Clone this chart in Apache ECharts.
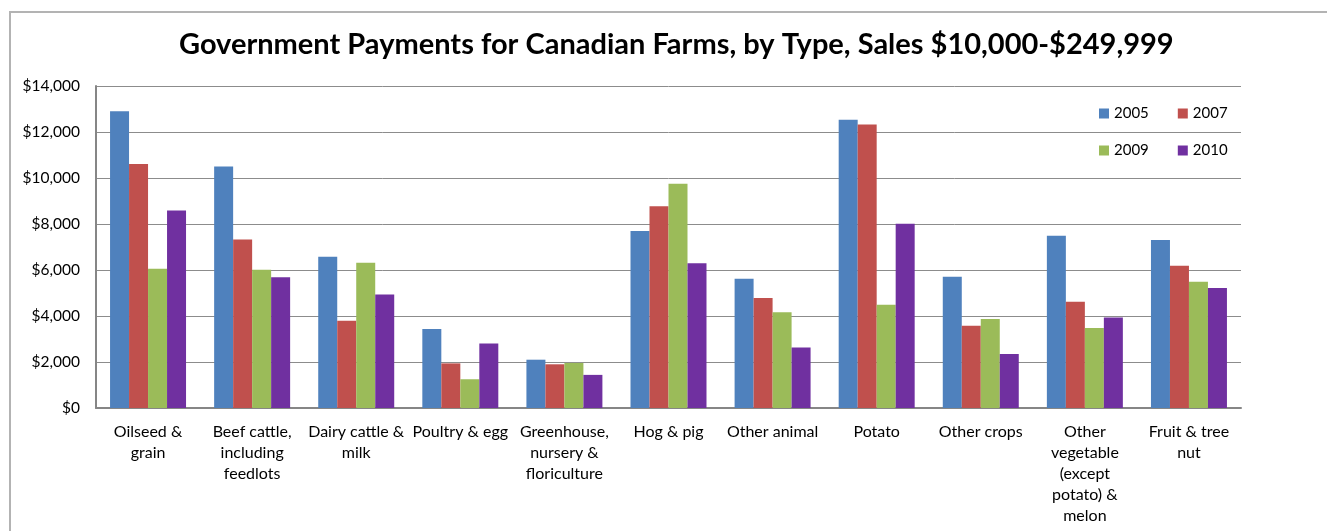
<!DOCTYPE html>
<html>
<head>
<meta charset="utf-8">
<title>Government Payments for Canadian Farms</title>
<script src="https://cdn.jsdelivr.net/npm/echarts@6/dist/echarts.min.js"></script>
<style>
  html, body { margin: 0; padding: 0; background: #fff; }
  #chart { width: 1327px; height: 531px; }
</style>
</head>
<body>
<div id="chart"></div>
<script>
// Farm types (line breaks follow the wrapped axis labels)
const categories = [
  'Oilseed &\ngrain',
  'Beef cattle,\nincluding\nfeedlots',
  'Dairy cattle &\nmilk',
  'Poultry & egg',
  'Greenhouse,\nnursery &\nfloriculture',
  'Hog & pig',
  'Other animal',
  'Potato',
  'Other crops',
  'Other\nvegetable\n(except\npotato) &\nmelon',
  'Fruit & tree\nnut'
];

// Average government payments per farm, dollars
const years = ['2005', '2007', '2009', '2010'];
const values2005 = [12900, 10500, 6580, 3440, 2100, 7700, 5620, 12530, 5710, 7490, 7300];
const values2007 = [10610, 7330, 3790, 1940, 1900, 8770, 4780, 12330, 3580, 4620, 6190];
const values2009 = [6050, 6010, 6320, 1250, 1960, 9750, 4160, 4490, 3870, 3480, 5490];
const values2010 = [8590, 5690, 4940, 2800, 1440, 6290, 2630, 8010, 2350, 3940, 5220];

const yTicks = { min: 0, max: 14000, interval: 2000 };
const colors = ['#4F81BD', '#C0504D', '#9BBB59', '#7030A0'];

const seriesValues = [values2005, values2007, values2009, values2010];
const fontFamily = 'Lato, "Open Sans", sans-serif';

const chart = echarts.init(document.getElementById('chart'), null, { renderer: 'canvas' });

const legendText = { fontFamily, fontSize: 15, color: '#000' };

chart.setOption({
  animation: false,
  backgroundColor: '#ffffff',
  color: colors,
  title: {
    text: 'Government Payments for Canadian Farms, by Type, Sales $10,000-$249,999',
    left: 174,
    top: 25,
    textStyle: { fontFamily, fontSize: 29, fontWeight: 'bold', color: '#000' }
  },
  graphic: [
    {
      type: 'polyline',
      shape: { points: [[10, 531], [10, 12], [1327, 12]] },
      style: { stroke: '#b3b3b3', lineWidth: 2, fill: null },
      silent: true
    }
  ],
  legend: [
    {
      data: years.slice(0, 2),
      left: 1099,
      top: 106,
      padding: 0,
      itemWidth: 10,
      itemHeight: 10,
      itemGap: 29,
      icon: 'rect',
      textStyle: legendText
    },
    {
      data: years.slice(2, 4),
      left: 1099,
      top: 143,
      padding: 0,
      itemWidth: 10,
      itemHeight: 10,
      itemGap: 29,
      icon: 'rect',
      textStyle: legendText
    }
  ],
  grid: { left: 96, right: 86, top: 86, bottom: 123, containLabel: false },
  xAxis: {
    type: 'category',
    data: categories,
    axisLine: { lineStyle: { color: '#868686', width: 2 } },
    axisTick: { show: false },
    axisLabel: {
      interval: 0,
      margin: 13,
      fontFamily,
      fontSize: 16,
      lineHeight: 21,
      color: '#000',
      align: 'center'
    }
  },
  yAxis: {
    type: 'value',
    min: yTicks.min,
    max: yTicks.max,
    interval: yTicks.interval,
    axisLine: { show: true, lineStyle: { color: '#868686', width: 2 } },
    axisTick: { show: false },
    splitLine: { lineStyle: { color: '#8c8c8c', width: 1 } },
    axisLabel: {
      margin: 16,
      fontFamily,
      fontSize: 15.5,
      color: '#000',
      formatter: v => '$' + v.toLocaleString('en-US')
    }
  },
  series: years.map((y, i) => ({
    name: y,
    type: 'bar',
    data: seriesValues[i],
    barGap: '0%',
    barCategoryGap: '27%',
    itemStyle: { color: colors[i] }
  }))
});
</script>
</body>
</html>
